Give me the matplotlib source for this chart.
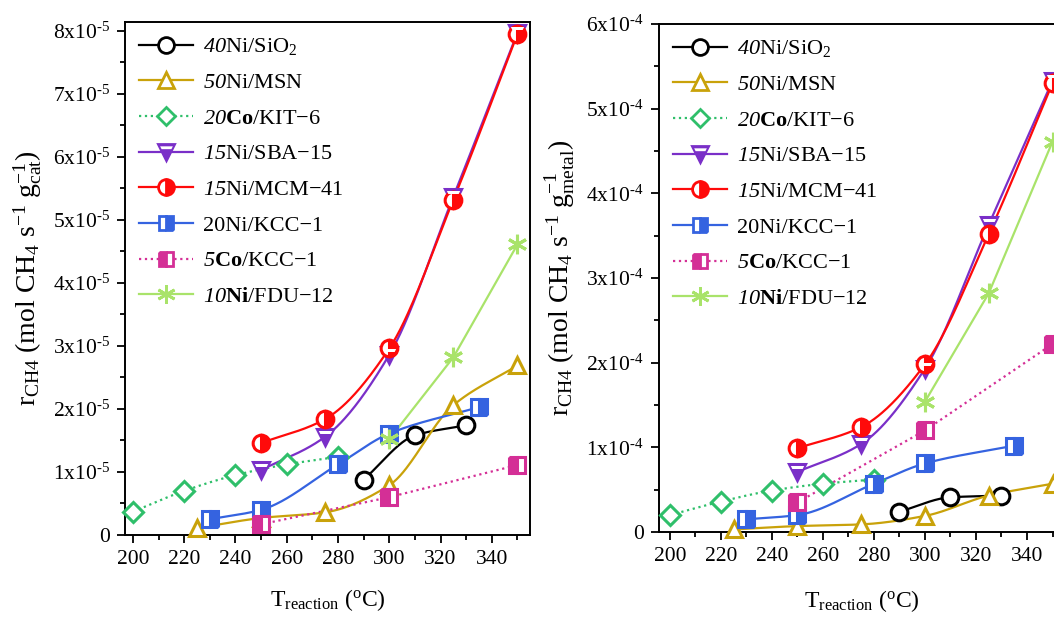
import numpy as np
import matplotlib
matplotlib.use('Agg')
import matplotlib.pyplot as plt
from matplotlib.ticker import MultipleLocator, FuncFormatter
from matplotlib.path import Path
from matplotlib.lines import Line2D

plt.rcParams['font.family'] = ['Liberation Serif', 'DejaVu Serif']
plt.rcParams['mathtext.fontset'] = 'custom'
plt.rcParams['mathtext.rm'] = 'Liberation Serif'
plt.rcParams['mathtext.it'] = 'Liberation Serif:italic'
plt.rcParams['mathtext.sf'] = 'Liberation Serif:italic'   # italic digits via \mathsf
plt.rcParams['mathtext.bf'] = 'Liberation Serif:bold'

# temperatures (degC) for each catalyst
t_sio2 = [290, 310, 330]
t_msn = [225, 250, 275, 300, 325, 350]
t_kit = [200, 220, 240, 260, 280]
t_sba = [250, 275, 300, 325, 350]
t_mcm = [250, 275, 300, 325, 350]
t_kcc_ni = [230, 250, 280, 300, 335]
t_kcc_co = [250, 300, 350]
t_fdu = [300, 325, 350]

# rate per gram of catalyst (x1e-5)
cat_sio2 = [0.88, 1.58, 1.74]
cat_msn = [0.11, 0.27, 0.36, 0.79, 2.06, 2.69]
cat_kit = [0.37, 0.70, 0.95, 1.12, 1.24]
cat_sba = [1.03, 1.56, 2.86, 5.37, 7.97]
cat_mcm = [1.46, 1.84, 2.96, 5.32, 7.95]
cat_kcc_ni = [0.25, 0.40, 1.12, 1.61, 2.03]
cat_kcc_co = [0.17, 0.60, 1.11]
cat_fdu = [1.52, 2.82, 4.61]

# rate per gram of metal (x1e-4)
met_sio2 = [0.24, 0.41, 0.43]
met_msn = [0.03, 0.07, 0.09, 0.19, 0.43, 0.57]
met_kit = [0.20, 0.36, 0.49, 0.57, 0.62]
met_sba = [0.71, 1.04, 1.93, 3.63, 5.33]
met_mcm = [0.99, 1.24, 1.98, 3.52, 5.30]
met_kcc_ni = [0.15, 0.20, 0.57, 0.81, 1.02]
met_kcc_co = [0.35, 1.20, 2.22]
met_fdu = [1.54, 2.82, 4.61]

labels = [r'$\mathsf{40}$Ni/SiO$_2$',
          r'$\mathsf{50}$Ni/MSN',
          r'$\mathsf{20}$$\mathbf{Co}$/KIT−6',
          r'$\mathsf{15}$Ni/SBA−15',
          r'$\mathsf{15}$Ni/MCM−41',
          r'20Ni/KCC−1',
          r'$\mathsf{5}$$\mathbf{Co}$/KCC−1',
          r'$\mathsf{10}$$\mathbf{Ni}$/FDU−12']

temps = [t_sio2, t_msn, t_kit, t_sba, t_mcm, t_kcc_ni, t_kcc_co, t_fdu]
cat_vals = [cat_sio2, cat_msn, cat_kit, cat_sba, cat_mcm, cat_kcc_ni, cat_kcc_co, cat_fdu]
met_vals = [met_sio2, met_msn, met_kit, met_sba, met_mcm, met_kcc_ni, met_kcc_co, met_fdu]

# white band near the top of the down triangle (same scale as 'v')
band = Path([(-0.80, 0.78), (0.80, 0.78), (0.62, 0.42), (-0.62, 0.42), (-0.80, 0.78),
             (0, -1), (0, -1)],
            [Path.MOVETO, Path.LINETO, Path.LINETO, Path.LINETO, Path.CLOSEPOLY,
             Path.MOVETO, Path.LINETO])

styles = [
    dict(color='black', marker='o', ms=12, ls='-', fill='full', mfc='white', smooth=True),
    dict(color='#c9a20a', marker='^', ms=12, ls='-', fill='full', mfc='white', smooth=True),
    dict(color='#2fbf6a', marker='D', ms=10, ls=':', fill='full', mfc='white', smooth=True),
    dict(color='#7a2fc8', marker='v', ms=12, ls='-', fill='full', mfc='#7a2fc8', smooth=True),
    dict(color='#ff0a0a', marker='o', ms=12, ls='-', fill='right', mfc='#ff0a0a', smooth=True),
    dict(color='#3563e0', marker='s', ms=11, ls='-', fill='right', mfc='#3563e0', smooth=True),
    dict(color='#d42f96', marker='s', ms=11, ls=':', fill='left', mfc='#d42f96', smooth=False),
    dict(color='#a9e36a', marker=(6, 2, 0), ms=14, ls='-', fill='full', mfc='#a9e36a', smooth=False),
]


def pchip(x, y, n=200):
    x = np.asarray(x, float)
    y = np.asarray(y, float)
    h = np.diff(x)
    d = np.diff(y) / h
    m = np.zeros_like(y)
    m[0], m[-1] = d[0], d[-1]
    for k in range(1, len(x) - 1):
        if d[k - 1] * d[k] > 0:
            w1 = 2 * h[k] + h[k - 1]
            w2 = h[k] + 2 * h[k - 1]
            m[k] = (w1 + w2) / (w1 / d[k - 1] + w2 / d[k])
    xs = np.linspace(x[0], x[-1], n)
    idx = np.clip(np.searchsorted(x, xs) - 1, 0, len(x) - 2)
    t = (xs - x[idx]) / h[idx]
    h00 = 2 * t**3 - 3 * t**2 + 1
    h10 = t**3 - 2 * t**2 + t
    h01 = -2 * t**3 + 3 * t**2
    h11 = t**3 - t**2
    ys = h00 * y[idx] + h10 * h[idx] * m[idx] + h01 * y[idx + 1] + h11 * h[idx] * m[idx + 1]
    return xs, ys


def draw(ax, vals, scale):
    handles = []
    for T, v, st in zip(temps, vals, styles):
        v = np.asarray(v) * scale
        if st['smooth']:
            xs, ys = pchip(T, v)
        else:
            xs, ys = T, v
        ax.plot(xs, ys, color=st['color'], ls=st['ls'], lw=1.6, zorder=2)
        ax.plot(T, v, ls='none', marker=st['marker'], ms=st['ms'], color=st['color'],
                mec=st['color'], mew=2.2, mfc=st['mfc'], fillstyle=st['fill'],
                markerfacecoloralt='white', zorder=3, clip_on=False)
        h = Line2D([], [], color=st['color'], ls=st['ls'], lw=1.6, marker=st['marker'],
                   ms=st['ms'] * 0.95, mec=st['color'], mew=2.0, mfc=st['mfc'],
                   fillstyle=st['fill'], markerfacecoloralt='white')
        if st['marker'] == 'v':
            ax.plot(T, v, ls='none', marker=band, ms=st['ms'], mfc='white', mew=0,
                    zorder=3.1, clip_on=False)
            hb = Line2D([], [], ls='none', marker=band, ms=st['ms'] * 0.95, mfc='white', mew=0)
            h = (h, hb)
        handles.append(h)
    return handles


def sci_fmt(exp):
    def f(v, pos):
        if abs(v) < 1e-12:
            return '0'
        return r'%dx10$^{\mathregular{‐%d}}$' % (round(v / 10**exp), -exp)
    return FuncFormatter(f)


fig = plt.figure(figsize=(10.54, 6.17), dpi=100)
ax1 = fig.add_axes([125 / 1054, 1 - 535 / 617, 405 / 1054, 513 / 617])
ax2 = fig.add_axes([659 / 1054, 1 - 532 / 617, 406 / 1054, 508 / 617])

h1 = draw(ax1, cat_vals, 1e-5)
h2 = draw(ax2, met_vals, 1e-4)

ax1.set_xlim(196.9, 354.9)
ax1.set_ylim(0, 8.14e-5)
ax1.yaxis.set_major_locator(MultipleLocator(1e-5))
ax1.yaxis.set_minor_locator(MultipleLocator(0.5e-5))
ax1.yaxis.set_major_formatter(sci_fmt(-5))
ax1.set_ylabel(r'r$_{\mathregular{CH4}}$ (mol CH$_4$ s$^{-1}$ g$_{\mathregular{cat}}^{\mathregular{-1}}$)',
               fontsize=20, labelpad=6)

ax2.set_xlim(195.7, 354.9)
ax2.set_ylim(0, 6.0e-4)
ax2.yaxis.set_major_locator(MultipleLocator(1e-4))
ax2.yaxis.set_minor_locator(MultipleLocator(0.5e-4))
ax2.yaxis.set_major_formatter(sci_fmt(-4))
ax2.set_ylabel(r'r$_{\mathregular{CH4}}$ (mol CH$_4$ s$^{-1}$ g$_{\mathregular{metal}}^{\mathregular{-1}}$)',
               fontsize=20, labelpad=6)

for ax, hs, lp in ((ax1, h1, 13), (ax2, h2, 16)):
    ax.xaxis.set_major_locator(MultipleLocator(20))
    ax.xaxis.set_minor_locator(MultipleLocator(10))
    ax.tick_params(which='both', direction='out', top=False, right=False, labelsize=15.5, width=1.3)
    ax.tick_params(which='major', length=6, pad=5)
    ax.tick_params(which='minor', length=3.5)
    for sp in ax.spines.values():
        sp.set_linewidth(1.4)
    ax.set_xlabel(r'T$_{\mathregular{reaction}}$ ($^{\mathregular{o}}$C)', fontsize=17, labelpad=lp)
    ax.legend(hs, labels, loc='upper left', bbox_to_anchor=(0.0, 1.0), frameon=False, fontsize=16,
              handlelength=2.4, handletextpad=0.45, labelspacing=0.68, borderaxespad=0.15,
              borderpad=0.5)

fig.savefig('out.png', dpi=100)
